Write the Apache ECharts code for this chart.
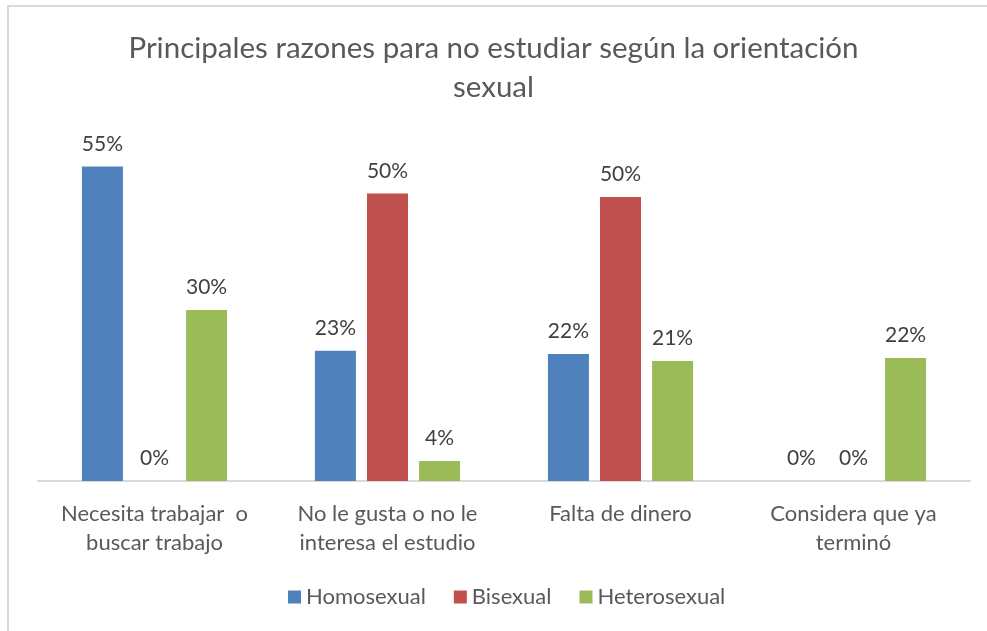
<!DOCTYPE html>
<html>
<head>
<meta charset="utf-8">
<script src="https://cdn.jsdelivr.net/npm/echarts@6/dist/echarts.min.js"></script>
<style>
  html, body { margin: 0; padding: 0; background: #fff; }
  #chart { width: 987px; height: 631px; }
</style>
</head>
<body>
<div id="chart"></div>
<script>
// categorias (eje x)
var categorias = ['Necesita trabajar  o\nbuscar trabajo', 'No le gusta o no le\ninteresa el estudio', 'Falta de dinero', 'Considera que ya\nterminó'];
// porcentajes por orientacion
var homosexual = [55, 22.8, 22.2, 0];
var bisexual = [0, 50.3, 49.7, 0];
var heterosexual = [29.9, 3.5, 21, 21.5];
var series_nombres = ['Homosexual', 'Bisexual', 'Heterosexual'];

var colores = ['#4F81BD', '#C0504D', '#9BBB59'];
var fuente = 'Lato, "Open Sans", sans-serif';

function serie(nombre, datos, color) {
    return {
        name: nombre,
        type: 'bar',
        data: datos,
        barWidth: 41,
        barGap: '27%',
        itemStyle: { color: color },
        label: {
            show: true,
            position: 'top',
            distance: 12,
            color: '#404040',
            fontSize: 21,
            fontFamily: fuente,
            formatter: function (p) { return Math.round(p.value) + '%'; }
        }
    };
}

var myChart = echarts.init(document.getElementById('chart'));
var option = {
    backgroundColor: '#fff',
    animation: false,
    title: {
        text: 'Principales razones para no estudiar según la orientación\nsexual',
        left: 'center',
        top: 24,
        textStyle: {
            color: '#595959',
            fontSize: 29.5,
            fontWeight: 'normal',
            fontFamily: fuente,
            lineHeight: 39
        }
    },
    graphic: [{
        type: 'rect',
        shape: { x: 8, y: 6, width: 1000, height: 700 },
        style: { fill: 'none', stroke: '#d9d9d9', lineWidth: 2 },
        silent: true
    }],
    legend: {
        data: series_nombres,
        bottom: 18,
        left: 283,
        itemWidth: 13,
        itemHeight: 13,
        itemGap: 28,
        icon: 'rect',
        textStyle: { color: '#595959', fontSize: 22, fontFamily: fuente }
    },
    grid: {
        left: 38,
        top: 138,
        width: 932,
        height: 343
    },
    xAxis: {
        type: 'category',
        data: categorias,
        axisLine: { lineStyle: { color: '#d9d9d9', width: 2 } },
        axisTick: { show: false },
        axisLabel: {
            color: '#595959',
            fontSize: 22,
            fontFamily: fuente,
            lineHeight: 29,
            margin: 18,
            interval: 0
        }
    },
    yAxis: {
        type: 'value',
        min: 0,
        max: 60,
        show: false,
        splitLine: { show: false }
    },
    series: [
        serie(series_nombres[0], homosexual, colores[0]),
        serie(series_nombres[1], bisexual, colores[1]),
        serie(series_nombres[2], heterosexual, colores[2])
    ]
};
myChart.setOption(option);
</script>
</body>
</html>
